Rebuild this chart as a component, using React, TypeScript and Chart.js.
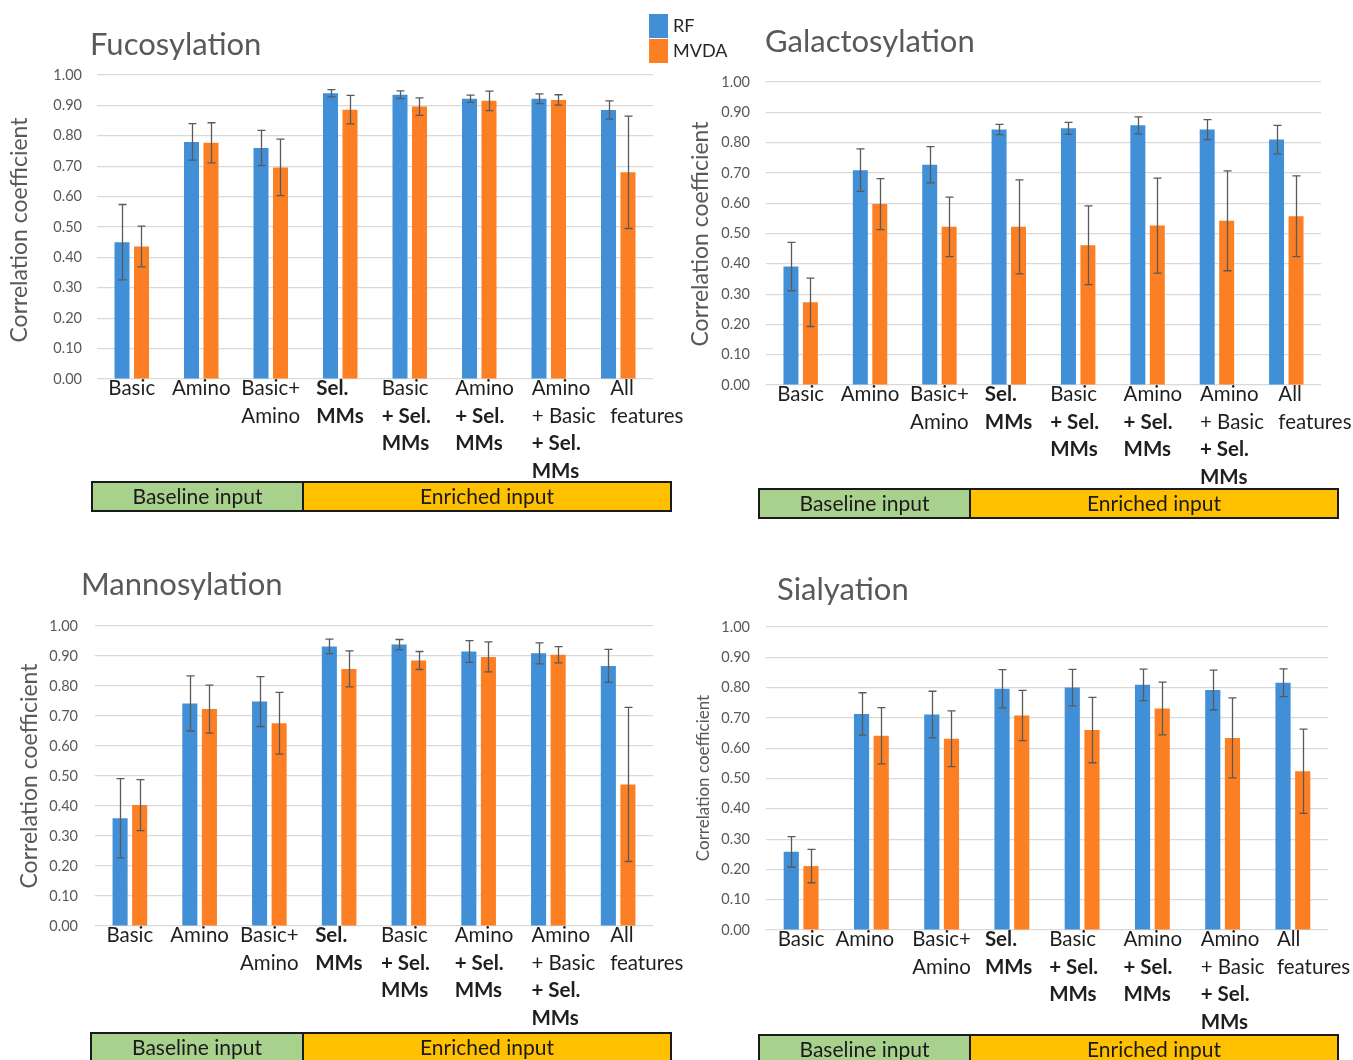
import React, { useEffect, useRef } from "react";
import { Chart, registerables } from "chart.js";

Chart.register(...registerables);
Chart.defaults.font.family = "Lato, 'Open Sans', sans-serif";

// ---------- data ----------
const categoryLines: string[][] = [
  ["Basic"],
  ["Amino"],
  ["Basic+", "Amino"],
  ["Sel.", "MMs"],
  ["Basic", "+ Sel.", "MMs"],
  ["Amino", "+ Sel.", "MMs"],
  ["Amino", "+ Basic", "+ Sel.", "MMs"],
  ["All", "features"],
];
const boldLines = ["Sel.", "MMs", "+ Sel."];
const seriesNames = ["RF", "MVDA"];
const groupNames = ["Baseline input", "Enriched input"];
const yAxisTitle = "Correlation coefficient";
const panelTitles = ["Fucosylation", "Galactosylation", "Mannosylation", "Sialyation"];

const fucRF = [0.45, 0.78, 0.76, 0.94, 0.935, 0.922, 0.922, 0.885];
const fucRFErr = [0.124, 0.06, 0.058, 0.012, 0.013, 0.012, 0.016, 0.03];
const fucMVDA = [0.436, 0.777, 0.696, 0.886, 0.896, 0.915, 0.918, 0.68];
const fucMVDAErr = [0.067, 0.066, 0.093, 0.047, 0.029, 0.032, 0.017, 0.185];

const galRF = [0.391, 0.709, 0.727, 0.843, 0.847, 0.857, 0.843, 0.81];
const galRFErr = [0.08, 0.07, 0.06, 0.017, 0.02, 0.028, 0.033, 0.047];
const galMVDA = [0.273, 0.597, 0.522, 0.522, 0.461, 0.526, 0.542, 0.557];
const galMVDAErr = [0.08, 0.084, 0.098, 0.155, 0.13, 0.157, 0.165, 0.133];

const manRF = [0.359, 0.742, 0.748, 0.932, 0.938, 0.915, 0.909, 0.867];
const manRFErr = [0.132, 0.092, 0.083, 0.024, 0.017, 0.036, 0.035, 0.055];
const manMVDA = [0.403, 0.723, 0.676, 0.857, 0.885, 0.897, 0.904, 0.472];
const manMVDAErr = [0.085, 0.08, 0.103, 0.06, 0.03, 0.05, 0.027, 0.257];

const siaRF = [0.258, 0.713, 0.711, 0.796, 0.8, 0.809, 0.792, 0.816];
const siaRFErr = [0.05, 0.07, 0.077, 0.063, 0.06, 0.052, 0.066, 0.046];
const siaMVDA = [0.211, 0.641, 0.631, 0.708, 0.66, 0.731, 0.634, 0.524];
const siaMVDAErr = [0.055, 0.093, 0.092, 0.083, 0.108, 0.087, 0.132, 0.139];

// ---------- styles / layout ----------
const seriesColors = ["#418fd6", "#fd7f23"];
const groupColors = ["#a9d18e", "#ffc000"];
const greyText = "#595959";
// left edge of each category label block relative to the category centre (null = centred)
const labelShiftStd: (number | null)[] = [null, null, null, -24, -28, -24, -17, -8];
const labelShiftWide: (number | null)[] = [null, -36, null, -27, -33, -29, -22, -16];

type Cfg = {
  left: number; top: number; width: number; height: number;
  area: { l: number; r: number; t: number; b: number };
  title: { x: number; y: number; size: number };
  yTitle: { x: number; y: number; size: number };
  tickRight: number;
  box: { l: number; m: number; r: number; t: number; h: number };
  legend: boolean;
  labelShift: (number | null)[];
};

const panelCfgs: Cfg[] = [
  {
    left: 0, top: 0, width: 745, height: 540,
    area: { l: 97, r: 653, t: 75, b: 379 },
    title: { x: 90, y: 55, size: 31 },
    yTitle: { x: 20, y: 230, size: 23 },
    tickRight: 82,
    box: { l: 92, m: 303, r: 671, t: 482, h: 29 },
    legend: true,
    labelShift: labelShiftStd,
  },
  {
    left: 680, top: 0, width: 673, height: 540,
    area: { l: 766, r: 1321, t: 82, b: 385 },
    title: { x: 765, y: 52, size: 31 },
    yTitle: { x: 701, y: 234, size: 23 },
    tickRight: 750,
    box: { l: 759, m: 970, r: 1338, t: 489, h: 29 },
    legend: false,
    labelShift: labelShiftStd,
  },
  {
    left: 0, top: 540, width: 700, height: 520,
    area: { l: 95, r: 653, t: 626, b: 926 },
    title: { x: 81, y: 595, size: 31 },
    yTitle: { x: 30, y: 776, size: 23 },
    tickRight: 78,
    box: { l: 91, m: 303, r: 671, t: 1033, h: 29 },
    legend: false,
    labelShift: labelShiftStd,
  },
  {
    left: 680, top: 540, width: 673, height: 520,
    area: { l: 766, r: 1328, t: 627, b: 930 },
    title: { x: 777, y: 600, size: 31 },
    yTitle: { x: 704, y: 778, size: 17 },
    tickRight: 750,
    box: { l: 759, m: 970, r: 1338, t: 1035, h: 29 },
    legend: false,
    labelShift: labelShiftWide,
  },
];

const errorBarPlugin = {
  id: "errorBars",
  afterDatasetsDraw(chart: any) {
    const ctx = chart.ctx;
    const y = chart.scales.y;
    ctx.save();
    ctx.strokeStyle = "#5a5a5a";
    ctx.lineWidth = 1.3;
    chart.data.datasets.forEach((ds: any, d: number) => {
      const meta = chart.getDatasetMeta(d);
      meta.data.forEach((el: any, i: number) => {
        const v = ds.data[i];
        const e = ds.errors[i];
        const x = Math.round(el.x) + 0.5;
        const y1 = y.getPixelForValue(v + e);
        const y2 = y.getPixelForValue(v - e);
        ctx.beginPath();
        ctx.moveTo(x, y1);
        ctx.lineTo(x, y2);
        ctx.moveTo(x - 4, y1);
        ctx.lineTo(x + 4, y1);
        ctx.moveTo(x - 4, y2);
        ctx.lineTo(x + 4, y2);
        ctx.stroke();
      });
    });
    ctx.restore();
  },
};

const labelFont = (ln: string) => `${boldLines.includes(ln) ? "bold " : ""}20.5px Lato`;

const decorPlugin = {
  id: "decor",
  afterDraw(chart: any) {
    const cfg: Cfg = chart.config.options.__cfg;
    const title: string = chart.config.options.__title;
    const ctx = chart.ctx;
    const ox = cfg.left;
    const oy = cfg.top;
    const xs = chart.scales.x;
    const area = chart.chartArea;
    ctx.save();

    // title
    ctx.fillStyle = greyText;
    ctx.font = `${cfg.title.size}px Lato`;
    ctx.textAlign = "left";
    ctx.textBaseline = "alphabetic";
    ctx.fillText(title, cfg.title.x - ox, cfg.title.y - oy);

    // y axis title
    ctx.save();
    ctx.translate(cfg.yTitle.x - ox, cfg.yTitle.y - oy);
    ctx.rotate(-Math.PI / 2);
    ctx.font = `${cfg.yTitle.size}px Lato`;
    ctx.textAlign = "center";
    ctx.textBaseline = "middle";
    ctx.fillText(yAxisTitle, 0, 0);
    ctx.restore();

    // category labels
    ctx.fillStyle = "#1f1f1f";
    ctx.textAlign = "left";
    ctx.textBaseline = "alphabetic";
    categoryLines.forEach((lines, i) => {
      const cx = xs.getPixelForValue(i);
      let maxW = 0;
      lines.forEach((ln) => {
        ctx.font = labelFont(ln);
        maxW = Math.max(maxW, ctx.measureText(ln).width);
      });
      const shift = cfg.labelShift[i];
      const lx = shift === null ? cx - maxW / 2 : cx + shift;
      lines.forEach((ln, k) => {
        ctx.font = labelFont(ln);
        ctx.fillText(ln, lx, area.bottom + 16 + k * 27.5);
      });
    });

    // group boxes
    const b = cfg.box;
    const spans = [
      [b.l, b.m],
      [b.m, b.r],
    ];
    spans.forEach(([x1, x2], g) => {
      ctx.fillStyle = groupColors[g];
      ctx.fillRect(x1 - ox, b.t - oy, x2 - x1, b.h);
      ctx.strokeStyle = "#1a1a1a";
      ctx.lineWidth = 2;
      ctx.strokeRect(x1 - ox, b.t - oy, x2 - x1, b.h);
      ctx.fillStyle = "#1a1a1a";
      ctx.font = "21px Lato";
      ctx.textAlign = "center";
      ctx.textBaseline = "middle";
      ctx.fillText(groupNames[g], (x1 + x2) / 2 - ox, b.t + b.h / 2 + 1 - oy);
    });

    // legend
    if (cfg.legend) {
      seriesNames.forEach((name, s) => {
        ctx.fillStyle = seriesColors[s];
        ctx.fillRect(649 - ox, 14 + s * 25 - oy, 19, 24);
        ctx.fillStyle = "#262626";
        ctx.font = "18px Lato";
        ctx.textAlign = "left";
        ctx.textBaseline = "middle";
        ctx.fillText(name, 673 - ox, 26 + s * 25 - oy);
      });
    }
    ctx.restore();
  },
};

function Panel(props: {
  cfg: Cfg; title: string; rf: number[]; rfErr: number[]; mv: number[]; mvErr: number[];
}) {
  const ref = useRef<HTMLCanvasElement>(null);
  const { cfg, title, rf, rfErr, mv, mvErr } = props;
  useEffect(() => {
    const a = cfg.area;
    const chart = new Chart(ref.current as HTMLCanvasElement, {
      type: "bar",
      data: {
        labels: categoryLines.map((l) => l.join(" ")),
        datasets: [
          {
            label: seriesNames[0], data: rf, errors: rfErr,
            backgroundColor: seriesColors[0], borderWidth: 0,
            categoryPercentage: 0.561, barPercentage: 0.77,
          } as any,
          {
            label: seriesNames[1], data: mv, errors: mvErr,
            backgroundColor: seriesColors[1], borderWidth: 0,
            categoryPercentage: 0.561, barPercentage: 0.77,
          } as any,
        ],
      },
      options: {
        responsive: false,
        animation: false,
        devicePixelRatio: 1,
        __cfg: cfg,
        __title: title,
        layout: {
          padding: { left: 0, top: a.t - cfg.top, right: cfg.left + cfg.width - a.r, bottom: 0 },
        },
        plugins: { legend: { display: false }, tooltip: { enabled: false } },
        scales: {
          x: {
            grid: { display: false },
            border: { display: false },
            ticks: { display: false },
            afterFit: (s: any) => { s.height = cfg.top + cfg.height - a.b; },
          },
          y: {
            min: 0, max: 1,
            ticks: {
              stepSize: 0.1,
              padding: a.l - cfg.tickRight,
              color: greyText,
              font: { size: 14.5 },
              callback: (v: any) => Number(v).toFixed(2),
            },
            grid: { color: "#d9d9d9", drawTicks: false, lineWidth: 1.2 },
            border: { display: false },
            afterFit: (s: any) => { s.width = a.l - cfg.left; },
          },
        },
      } as any,
      plugins: [errorBarPlugin, decorPlugin],
    });
    return () => chart.destroy();
  }, []);
  return (
    <canvas
      ref={ref}
      width={cfg.width}
      height={cfg.height}
      style={{ position: "absolute", left: cfg.left, top: cfg.top, width: cfg.width, height: cfg.height }}
    />
  );
}

export default function App() {
  const sets = [
    [fucRF, fucRFErr, fucMVDA, fucMVDAErr],
    [galRF, galRFErr, galMVDA, galMVDAErr],
    [manRF, manRFErr, manMVDA, manMVDAErr],
    [siaRF, siaRFErr, siaMVDA, siaMVDAErr],
  ];
  return (
    <div style={{ position: "absolute", left: 0, top: 0, width: 1353, height: 1060, background: "#fff", overflow: "hidden" }}>
      {panelCfgs.map((cfg, i) => (
        <Panel key={i} cfg={cfg} title={panelTitles[i]} rf={sets[i][0]} rfErr={sets[i][1]} mv={sets[i][2]} mvErr={sets[i][3]} />
      ))}
    </div>
  );
}
